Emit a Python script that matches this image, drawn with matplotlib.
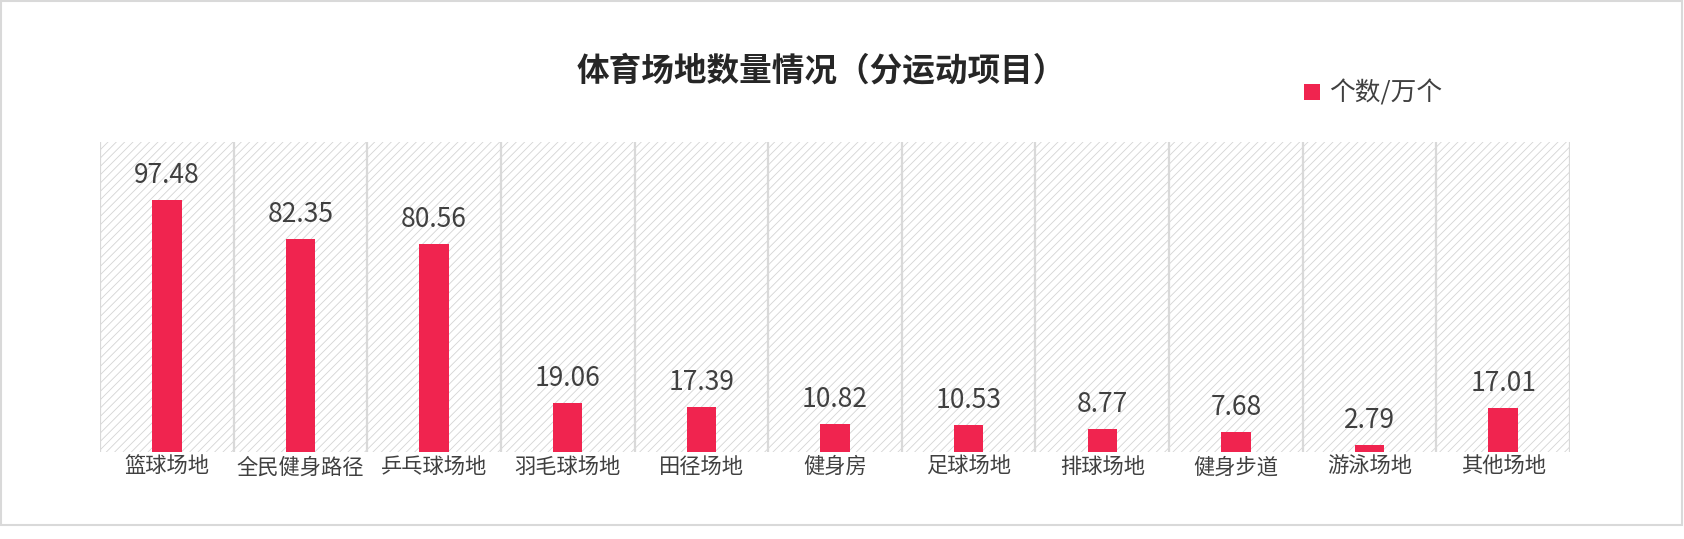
import matplotlib
matplotlib.use("Agg")
import matplotlib.pyplot as plt
from matplotlib.patches import Rectangle

plt.rcParams['font.family'] = ['Noto Sans CJK SC', 'DejaVu Sans']
plt.rcParams['hatch.linewidth'] = 0.6

# 数据
categories = ["篮球场地", "全民健身路径", "乒乓球场地", "羽毛球场地", "田径场地", "健身房",
              "足球场地", "排球场地", "健身步道", "游泳场地", "其他场地"]
counts = [97.48, 82.35, 80.56, 19.06, 17.39, 10.82, 10.53, 8.77, 7.68, 2.79, 17.01]
series_name = "个数/万个"

bar_color = "#f0244f"
grid_color = "#d9d9d9"
text_color = "#404040"

fig = plt.figure(figsize=(16.84, 5.39), dpi=100)
ax = fig.add_axes([0.0594, 0.1614, 0.8729, 0.5751])

n = len(categories)
x = list(range(n))

# 斜线背景
ax.add_patch(Rectangle((-0.5, 0), n, 120, facecolor="white", edgecolor="#d4d4d4",
                       hatch="////", linewidth=0, zorder=0))
for i in range(n + 1):
    ax.axvline(i - 0.5, color=grid_color, linewidth=1.6, zorder=1)

bars = ax.bar(x, counts, width=0.22, color=bar_color, zorder=2, label=series_name)
for xi, v in zip(x, counts):
    ax.text(xi, v + 4.3, f"{v:.2f}", ha="center", va="bottom", fontsize=19, color=text_color)

ax.set_xlim(-0.5, n - 0.5)
ax.set_ylim(0, 120)
ax.set_yticks([])
ax.set_xticks(x)
ax.set_xticklabels(categories, fontsize=15.3, color=text_color)
ax.tick_params(axis="x", length=0, pad=3)
for s in ax.spines.values():
    s.set_visible(False)

fig.text(0.488, 0.868, "体育场地数量情况（分运动项目）", ha="center", va="center",
         fontsize=23.5, fontweight="bold", color="#262626")

ax.legend(handles=[bars], labels=[series_name], loc="center left",
          bbox_to_anchor=(0.7745, 0.826), bbox_transform=fig.transFigure,
          frameon=False, fontsize=18.5, handlelength=0.6, handleheight=0.6,
          handletextpad=0.35, borderpad=0, borderaxespad=0, labelcolor=text_color)

# 外边框
fig.patches.append(Rectangle((0.0005, 14 / 539), 0.9985, 1 - 14 / 539 - 0.002,
                             transform=fig.transFigure, fill=False,
                             edgecolor=grid_color, linewidth=1.5))

fig.savefig("out.png", dpi=100)
